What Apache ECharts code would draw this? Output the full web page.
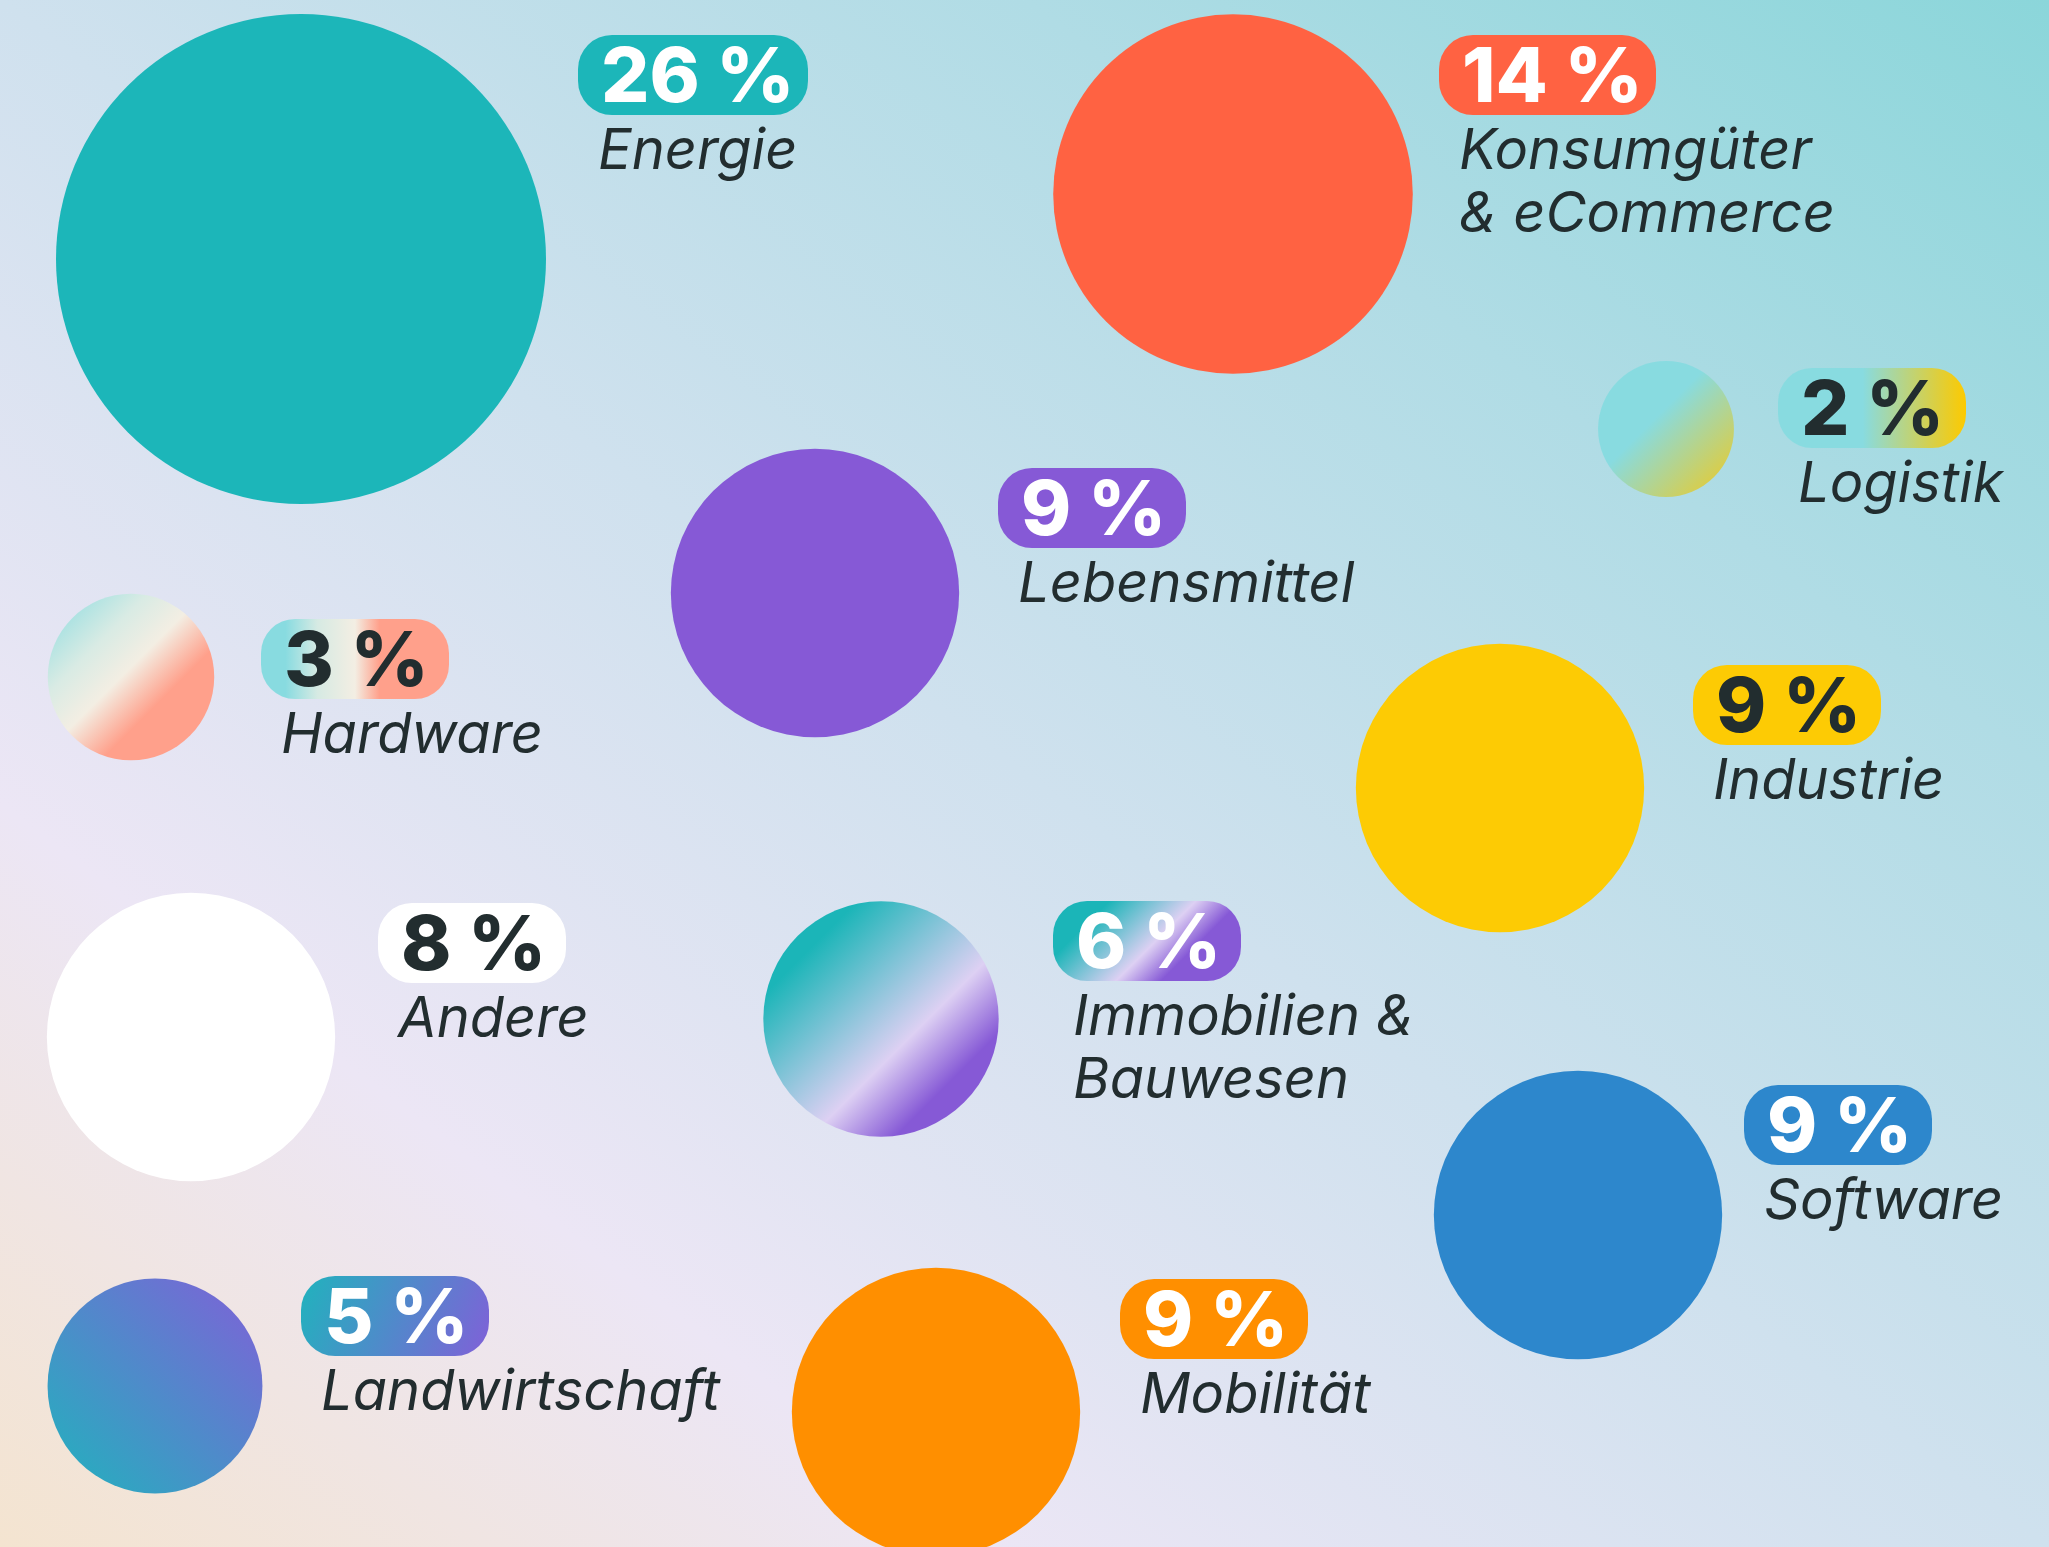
<!DOCTYPE html>
<html>
<head>
<meta charset="utf-8">
<script src="https://cdn.jsdelivr.net/npm/echarts@6/dist/echarts.min.js"></script>
<style>
    html, body { margin: 0; padding: 0; }
    #main {
        width: 2049px;
        height: 1547px;
        background: linear-gradient(to top right, #f4e4d0 0%, #ece6f5 24%, #cfe1ee 50%, #b0dce5 75%, #8bd6da 100%);
    }
</style>
</head>
<body>
<div id="main"></div>
<script>
// Branchen-Anteile (Bubble-Grafik)
var categories = ['Energie', 'Konsumgüter\n& eCommerce', 'Logistik', 'Lebensmittel', 'Hardware', 'Industrie',
    'Andere', 'Immobilien &\nBauwesen', 'Software', 'Landwirtschaft', 'Mobilität'];
var shares = [26, 14, 2, 9, 3, 9, 8, 6, 9, 5, 9];
// bubble area weight; "Andere" is drawn as large as the 9 % bubbles in the original
var bubbleWeight = [26, 14, 2, 9, 3, 9, 9, 6, 9, 5, 9];
var posX = [301, 1233, 1666, 815, 131, 1500, 191, 881, 1578, 155, 936];
var posY = [259, 194, 429, 593, 677, 788, 1037, 1019, 1215, 1386, 1412];

// layout: badge top-left relative to the bubble centre (px)
var badgeDx = [277, 206, 112, 183, 130, 193, 187, 172, 166, 146, 184];
var badgeDy = [-224, -159, -61, -125, -58, -123, -134, -118, -130, -110, -133];

var DARK = '#222d2f';
var SIZE_K = 96.1;

function grad(x, y, x2, y2, stops) {
    return new echarts.graphic.LinearGradient(x, y, x2, y2, stops.map(function (s) {
        return {offset: s[0], color: s[1]};
    }));
}

var bubbleFill = [
    '#1cb6b9',
    '#ff6242',
    grad(0, 0, 1, 1, [[0, '#88dbe0'], [0.42, '#88dbe0'], [1, '#f2c91c']]),
    '#8659d6',
    grad(0, 0, 1, 1, [[0, '#86dbe0'], [0.3, '#d9ebe4'], [0.47, '#f3eee3'], [0.66, '#ffa08b'], [1, '#ffa08b']]),
    '#fdcb04',
    '#ffffff',
    grad(0, 0, 1, 1, [[0, '#1bb5b8'], [0.2, '#1bb5b8'], [0.6, '#ddd0f3'], [0.78, '#8659d6'], [1, '#8659d6']]),
    '#2d87cc',
    grad(0, 1, 1, 0, [[0, '#20b3bd'], [1, '#8060d8']]),
    '#ff8f00'
];

var badgeText = ['#fff', '#fff', DARK, '#fff', DARK, DARK, DARK, '#fff', '#fff', '#fff', '#fff'];

function badgeFill(i, w, h) {
    switch (i) {
        case 2: return grad(0, 0, 1, 0, [[0, '#88dbe0'], [0.45, '#88dbe0'], [1, '#fdca00']]);
        case 4: return grad(0, 0, 1, 0, [[0.13, '#88dbe0'], [0.3, '#d6eae3'], [0.5, '#f3eee3'], [0.63, '#ffa08b'], [1, '#ffa08b']]);
        case 7: return grad(0, 0, 1, w / h, [[0, '#1bb5b8'], [0.15, '#1bb5b8'], [0.38, '#ddd0f3'], [0.5, '#8659d6'], [1, '#8659d6']]);
        case 9: return grad(0, 0, 1, 1, [[0, '#20b3bd'], [1, '#8060d8']]);
        default: return typeof bubbleFill[i] === 'string' ? bubbleFill[i] : '#fff';
    }
}

var PCT_FONT = '800 76px Inter, "Noto Sans", sans-serif';
var NAME_FONT = 'italic 400 56px Inter, "Noto Sans", sans-serif';
var measureCtx = document.createElement('canvas').getContext('2d');
function textWidth(str, font) {
    measureCtx.font = font;
    return measureCtx.measureText(str).width;
}

var bubbleData = [];
var labelData = [];
for (var i = 0; i < categories.length; i++) {
    bubbleData.push({
        name: categories[i],
        value: [posX[i], posY[i], bubbleWeight[i]],
        itemStyle: {color: bubbleFill[i]}
    });
    labelData.push([posX[i], posY[i], shares[i]]);
}

var myChart = echarts.init(document.getElementById('main'));

var option = {
    backgroundColor: 'transparent',
    animation: false,
    grid: {left: 0, right: 0, top: 0, bottom: 0},
    xAxis: {type: 'value', min: 0, max: 2049, show: false},
    yAxis: {type: 'value', min: 0, max: 1547, inverse: true, show: false},
    series: [
        {
            type: 'scatter',
            data: bubbleData,
            symbolSize: function (val) {
                return SIZE_K * Math.sqrt(val[2]);
            },
            itemStyle: {opacity: 1},
            silent: true
        },
        {
            type: 'custom',
            data: labelData,
            silent: true,
            renderItem: function (params, api) {
                var i = params.dataIndex;
                var c = api.coord([api.value(0), api.value(1)]);
                var bx = c[0] + badgeDx[i];
                var by = c[1] + badgeDy[i];
                var pct = api.value(2) + ' %';
                var h = 80;
                var w = Math.max(Math.round(textWidth(pct, PCT_FONT) + 36), 188);
                var children = [
                    {
                        type: 'rect',
                        shape: {x: bx, y: by, width: w, height: h, r: 34},
                        style: {fill: badgeFill(i, w, h)}
                    },
                    {
                        type: 'text',
                        style: {
                            text: pct, x: bx + 23, y: by + 44,
                            font: PCT_FONT, fill: badgeText[i],
                            align: 'left', verticalAlign: 'middle'
                        }
                    }
                ];
                var lines = categories[i].split('\n');
                for (var j = 0; j < lines.length; j++) {
                    children.push({
                        type: 'text',
                        style: {
                            text: lines[j], x: bx + 20, y: by + 117 + j * 63,
                            font: NAME_FONT, fill: DARK,
                            align: 'left', verticalAlign: 'middle'
                        }
                    });
                }
                return {type: 'group', children: children};
            }
        }
    ]
};
myChart.setOption(option);
</script>
</body>
</html>
